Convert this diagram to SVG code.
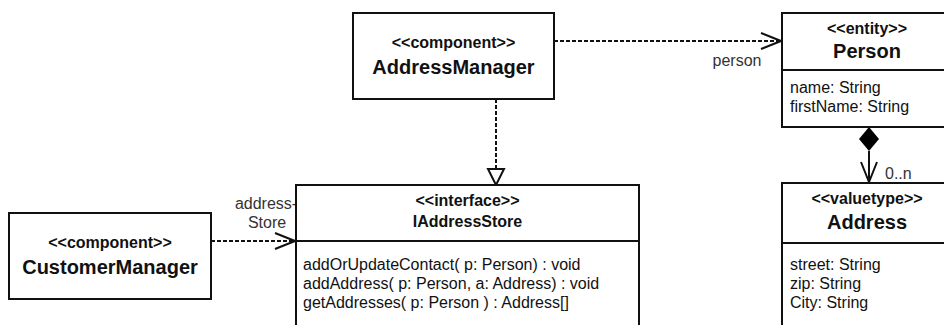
<svg xmlns="http://www.w3.org/2000/svg" width="944" height="325" viewBox="0 0 944 325">
  <style>
    text { font-family: "Liberation Sans", Arial, sans-serif; fill: #111; }
    .box { fill: #fff; stroke: #111; stroke-width: 2; }
    .sep { stroke: #111; stroke-width: 2; }
    .st { font-size: 16px; font-weight: bold; text-anchor: middle; }
    .nm { font-size: 20px; font-weight: bold; text-anchor: middle; }
    .nm16 { font-size: 16px; font-weight: bold; text-anchor: middle; }
    .at { font-size: 16px; }
    .lbl { font-size: 16px; fill: #333; }
    .dep { fill: none; stroke: #111; stroke-width: 2; stroke-dasharray: 4 2; }
    .solid { fill: none; stroke: #111; stroke-width: 2; }
  </style>
  <defs>
    <marker id="open" markerUnits="userSpaceOnUse" viewBox="-1 -1 22 18" refX="20" refY="8" markerWidth="22" markerHeight="18" orient="auto">
      <path d="M0,0 L20,8 L0,16" fill="none" stroke="#111" stroke-width="2"/>
    </marker>
  </defs>
  <rect width="944" height="325" fill="#fff"/>

  <!-- connectors -->
  <g id="connectors">
    <path class="dep" d="M554,41 H781" marker-end="url(#open)"/>
    <text class="lbl" x="737" y="66" text-anchor="middle">person</text>
    <path class="dep" d="M211,241 H295" marker-end="url(#open)"/>
    <text class="lbl" x="266" y="209" text-anchor="middle">address-</text>
    <text class="lbl" x="267" y="228" text-anchor="middle">Store</text>
    <path class="dep" d="M496,99 V169"/>
    <polygon points="488,169 504,169 496,185" fill="#fff" stroke="#111" stroke-width="2" stroke-linejoin="miter"/>
    <polygon points="869,127 879,139 869,151 859,139" fill="#000"/>
    <path class="solid" d="M869,151 V182" marker-end="url(#open)"/>
    <text class="lbl" x="885" y="179">0..n</text>
  </g>

  <!-- AddressManager component -->
  <g id="AddressManager">
    <rect class="box" x="353" y="13" width="201" height="86"/>
    <text class="st" x="453.5" y="48">&lt;&lt;component&gt;&gt;</text>
    <text class="nm" x="453.5" y="74">AddressManager</text>
  </g>

  <!-- CustomerManager component -->
  <g id="CustomerManager">
    <rect class="box" x="9" y="213" width="202" height="86"/>
    <text class="st" x="110" y="248">&lt;&lt;component&gt;&gt;</text>
    <text class="nm" x="110" y="274">CustomerManager</text>
  </g>

  <!-- IAddressStore interface -->
  <g id="IAddressStore">
    <rect class="box" x="296" y="185" width="343" height="170"/>
    <line class="sep" x1="296" y1="241" x2="639" y2="241"/>
    <text class="st" x="467.5" y="206">&lt;&lt;interface&gt;&gt;</text>
    <text class="nm16" x="467.5" y="227">IAddressStore</text>
    <text class="at" x="303" y="270">addOrUpdateContact( p: Person) : void</text>
    <text class="at" x="303" y="289">addAddress( p: Person, a: Address) : void</text>
    <text class="at" x="303" y="308">getAddresses( p: Person ) : Address[]</text>
  </g>

  <!-- Person entity -->
  <g id="Person">
    <rect class="box" x="782" y="13" width="180" height="114"/>
    <line class="sep" x1="782" y1="70" x2="962" y2="70"/>
    <text class="st" x="867" y="34">&lt;&lt;entity&gt;&gt;</text>
    <text class="nm" x="867" y="58">Person</text>
    <text class="at" x="790" y="93">name: String</text>
    <text class="at" x="790" y="112">firstName: String</text>
  </g>

  <!-- Address value type -->
  <g id="Address">
    <rect class="box" x="782" y="183" width="180" height="170"/>
    <line class="sep" x1="782" y1="243" x2="962" y2="243"/>
    <text class="st" x="867" y="204">&lt;&lt;valuetype&gt;&gt;</text>
    <text class="nm" x="867" y="229">Address</text>
    <text class="at" x="790" y="270">street: String</text>
    <text class="at" x="790" y="289">zip: String</text>
    <text class="at" x="790" y="308">City: String</text>
  </g>
</svg>
